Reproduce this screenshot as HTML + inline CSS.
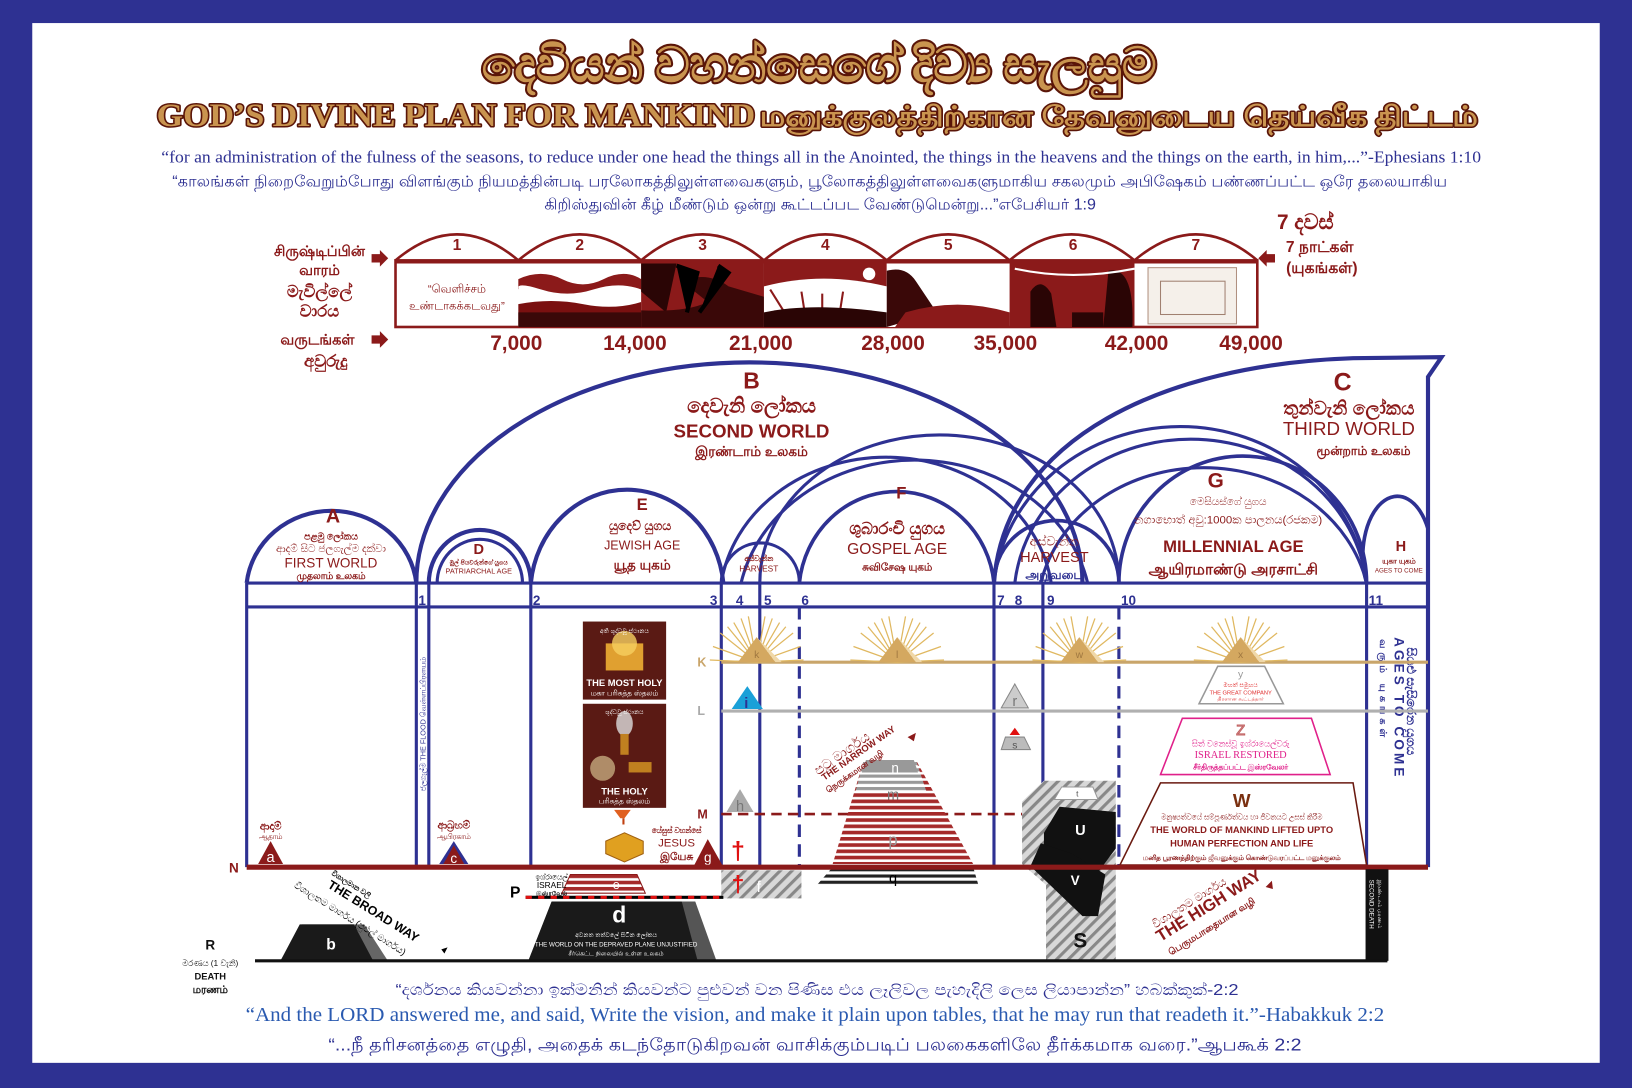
<!DOCTYPE html>
<html><head><meta charset="utf-8"><style>
html,body{margin:0;padding:0;background:#2e3192;}
svg{display:block}
text{font-family:"Liberation Sans","Noto Sans CJK SC",sans-serif}
.serif{font-family:"Liberation Serif","Noto Serif CJK SC",serif}
.ttl{paint-order:stroke fill;stroke-linejoin:round}
</style></head><body>
<svg width="1632" height="1088" viewBox="0 0 1568 1045" xmlns="http://www.w3.org/2000/svg">
<defs>
<pattern id="hat" width="8" height="8" patternUnits="userSpaceOnUse" patternTransform="rotate(45)">
<rect width="8" height="8" fill="#d8d8d8"/><rect width="3" height="8" fill="#888"/></pattern>
<pattern id="rstr" width="6" height="6" patternUnits="userSpaceOnUse"><rect width="6" height="6" fill="#fff"/><rect width="6" height="3.5" fill="#a52a2a"/></pattern>
<pattern id="gstr" width="6" height="6" patternUnits="userSpaceOnUse"><rect width="6" height="6" fill="#fff"/><rect width="6" height="3" fill="#999"/></pattern>
<pattern id="kstr" width="6" height="6" patternUnits="userSpaceOnUse"><rect width="6" height="6" fill="#fff"/><rect width="6" height="3" fill="#222"/></pattern>
<g id="sun"><g stroke="#e0b860" stroke-width="1.2">
<line x1="0" y1="0" x2="-45" y2="-2"/><line x1="0" y1="0" x2="-42" y2="-15"/><line x1="0" y1="0" x2="-35" y2="-28"/><line x1="0" y1="0" x2="-22" y2="-38"/><line x1="0" y1="0" x2="-8" y2="-44"/><line x1="0" y1="0" x2="8" y2="-44"/><line x1="0" y1="0" x2="22" y2="-38"/><line x1="0" y1="0" x2="35" y2="-28"/><line x1="0" y1="0" x2="42" y2="-15"/><line x1="0" y1="0" x2="45" y2="-2"/><line x1="0" y1="0" x2="-15" y2="-42"/><line x1="0" y1="0" x2="15" y2="-42"/><line x1="0" y1="0" x2="-28" y2="-34"/><line x1="0" y1="0" x2="28" y2="-34"/></g>
<polygon points="-18,0 0,-24 18,0" fill="#d4a860"/><polygon points="0,-24 18,0 24,0" fill="#f0d8a8"/></g>
</defs>
<rect x="0" y="0" width="1568" height="1045" fill="#2e3192"/>
<rect x="31" y="22" width="1506" height="999" fill="#fff"/>

<!-- Titles -->
<text x="787" y="78" text-anchor="middle" font-size="46" font-weight="bold" fill="#c9944f" stroke="#5a1508" stroke-width="4" class="ttl serif" style="font-family:'Liberation Serif',serif">දෙවියන් වහන්සෙගේ දිව්‍ය සැලසුම</text>
<text x="438" y="121" text-anchor="middle" font-size="31" font-weight="bold" fill="#c9944f" stroke="#5a1508" stroke-width="3" class="ttl" style="font-family:'Liberation Serif',serif" textLength="575" lengthAdjust="spacingAndGlyphs">GOD’S DIVINE PLAN FOR MANKIND</text>
<text x="1075" y="121" text-anchor="middle" font-size="27" font-weight="bold" fill="#c9944f" stroke="#5a1508" stroke-width="3" class="ttl" textLength="690" lengthAdjust="spacingAndGlyphs">மனுக்குலத்திற்கான தேவனுடைய தெய்வீக திட்டம்</text>
<text x="789" y="156" text-anchor="middle" font-size="16" fill="#2e3192" style="font-family:'Liberation Serif',serif" textLength="1268" lengthAdjust="spacingAndGlyphs">“for an administration of the fulness of the seasons, to reduce under one head the things all in the Anointed, the things in the heavens and the things on the earth, in him,...”-Ephesians 1:10</text>
<text x="778" y="179" text-anchor="middle" font-size="15" fill="#2e3192" textLength="1225" lengthAdjust="spacingAndGlyphs">“காலங்கள் நிறைவேறும்போது விளங்கும் நியமத்தின்படி பரலோகத்திலுள்ளவைகளும், பூலோகத்திலுள்ளவைகளுமாகிய சகலமும் அபிஷேகம் பண்ணப்பட்ட ஒரே தலையாகிய</text>
<text x="788" y="201" text-anchor="middle" font-size="15" fill="#2e3192" textLength="530" lengthAdjust="spacingAndGlyphs">கிறிஸ்துவின் கீழ் மீண்டும் ஒன்று கூட்டப்பட வேண்டுமென்று...”எபேசியர் 1:9</text>

<!-- Day boxes -->
<g stroke="#8b1a1a" stroke-width="2.5" fill="#fff">
<path d="M380,250 Q439,200 498,250 Q557,200 616,250 Q675,200 734,250 Q793,200 852,250 Q911,200 970,250 Q1029,200 1090,250 Q1149,200 1208,250"/>
<rect x="380" y="250" width="828" height="64"/>
</g>
<rect x="380" y="250" width="828" height="3" fill="#8b1a1a"/>
<g font-size="15" text-anchor="middle" fill="#8b1a1a" font-weight="bold">
<text x="439" y="240">1</text><text x="557" y="240">2</text><text x="675" y="240">3</text><text x="793" y="240">4</text><text x="911" y="240">5</text><text x="1031" y="240">6</text><text x="1149" y="240">7</text></g>
<text x="439" y="281" text-anchor="middle" font-size="11" fill="#8b1a1a">“வெளிச்சம்</text>
<text x="439" y="297" text-anchor="middle" font-size="11" fill="#8b1a1a">உண்டாகக்கடவது”</text>
<rect x="498" y="253" width="118" height="61" fill="#fff"/>
<path d="M498,268 Q520,258 540,268 T580,268 T616,268 V278 Q595,270 570,278 T520,278 T498,278Z" fill="#8b1a1a"/>
<path d="M498,292 Q530,286 560,292 T616,290 V314 H498Z" fill="#7a1010"/>
<path d="M498,300 H616 V314 H498Z" fill="#3a0808"/>
<rect x="616" y="253" width="118" height="61" fill="#8b1a1a"/>
<path d="M616,253 H650 L640,300 L616,280Z" fill="#2a0505"/><path d="M655,270 Q680,260 700,275 L734,285 V314 H616 V298 Q660,300 680,290Z" fill="#3a0808"/>
<path d="M650,255 L670,262 L660,300 M690,255 L700,262 L672,300" stroke="#000" stroke-width="4"/>
<rect x="734" y="253" width="118" height="61" fill="#8b1a1a"/>
<path d="M734,275 Q790,260 852,275 V314 H734Z" fill="#fff"/>
<path d="M740,278 L760,310 M770,280 L775,312 M790,282 L790,312 M810,280 L805,312" stroke="#8b1a1a" stroke-width="2"/>
<path d="M734,300 Q780,290 852,300 V314 H734Z" fill="#2a0505"/><circle cx="835" cy="263" r="6" fill="#fff"/>
<rect x="852" y="253" width="118" height="61" fill="#fff"/>
<path d="M852,260 Q870,255 880,270 L900,300 L852,314Z" fill="#3a0808"/><path d="M870,300 Q920,285 970,300 V314 H860Z" fill="#8b1a1a"/>
<rect x="970" y="253" width="120" height="61" fill="#8b1a1a"/>
<path d="M990,280 Q1000,265 1010,282 L1015,314 H990Z M1030,300 H1060 V314 H1030Z M1065,260 Q1090,255 1088,314 H1060Z" fill="#2a0505"/>
<path d="M975,258 Q1030,270 1090,258" stroke="#fff" stroke-width="2" fill="none"/>
<rect x="1103" y="257" width="85" height="54" fill="#f5f0ea" stroke="#b09080"/>
<rect x="1115" y="270" width="62" height="32" fill="none" stroke="#a08070"/>
<g font-size="20" font-weight="bold" fill="#8b1a1a" text-anchor="middle">
<text x="496" y="336">7,000</text><text x="610" y="336">14,000</text><text x="731" y="336">21,000</text><text x="858" y="336">28,000</text><text x="966" y="336">35,000</text><text x="1092" y="336">42,000</text><text x="1202" y="336">49,000</text></g>
<g font-size="14" font-weight="bold" fill="#8b1a1a" text-anchor="middle">
<text x="307" y="246">சிருஷ்டிப்பின்</text><text x="307" y="264">வாரம்</text>
<text x="307" y="285" font-size="16">මැවිල්ලේ</text><text x="307" y="304" font-size="16">වාරය</text>
<text x="305" y="331">வருடங்கள்</text><text x="313" y="352" font-size="16">අවුරුදු</text>
<text x="1254" y="220" font-size="20">7 දවස්</text><text x="1268" y="242" font-size="15">7 நாட்கள்</text><text x="1270" y="262" font-size="15">(யுகங்கள்)</text></g>
<g fill="#8b1a1a"><path d="M357,244 h8 v-4 l8,8 l-8,8 v-4 h-8z"/><path d="M357,322 h8 v-4 l8,8 l-8,8 v-4 h-8z"/><path d="M1225,244 h-8 v-4 l-8,8 l8,8 v-4 h8z"/></g>

<!-- Arches -->
<g fill="none" stroke="#2e3192" stroke-width="4">
<path d="M400,560 A320,212 0 0 1 1040,560"/>
<path d="M955,560 C965,420 1120,350 1300,344 L1385,343 L1372,362 L1372,833"/>
<path d="M237,560 A82,78 0 0 1 400,560"/>
<path d="M412,560 A49,51 0 0 1 510,560"/><path d="M420,560 A41,42 0 0 1 502,560" stroke-width="3"/>
<path d="M510,560 A93,100 0 0 1 695,560"/>
<path d="M693,560 A37,38 0 0 1 768,560" stroke-width="3"/>
<path d="M693,560 A160,140 0 0 1 1010,560" stroke-width="3"/>
<path d="M712,560 A170,148 0 0 1 1045,560" stroke-width="3"/>
<path d="M730,560 A172,142 0 0 1 1075,560" stroke-width="3"/>
<path d="M768,560 A94,98 0 0 1 955,560" stroke-width="3.5"/>
<path d="M955,560 A60,60 0 0 1 1075,560" stroke-width="3.5"/>
<path d="M955,560 A180,168 0 0 1 1313,560" stroke-width="3"/>
<path d="M975,560 A170,155 0 0 1 1313,560" stroke-width="3"/>
<path d="M1000,560 A160,140 0 0 1 1313,560" stroke-width="3"/>
<path d="M1075,560 A119,122 0 0 1 1313,560" stroke-width="3.5"/>
<path d="M1313,560 A30,52 0 0 1 1372,508" stroke-width="3.5"/>
<line x1="237" y1="560" x2="1372" y2="560" stroke-width="3"/>
<line x1="237" y1="583" x2="1372" y2="583" stroke-width="3"/>
<line x1="237" y1="560" x2="237" y2="833" stroke-width="3"/>
<line x1="400" y1="560" x2="400" y2="833" stroke-width="3"/>
<line x1="412" y1="560" x2="412" y2="833" stroke-width="3"/>
<line x1="510" y1="560" x2="510" y2="833" stroke-width="3"/>
<line x1="693" y1="560" x2="693" y2="833" stroke-width="3"/>
<line x1="730" y1="560" x2="730" y2="833" stroke-width="3"/>
<line x1="768" y1="583" x2="768" y2="833" stroke-width="3" stroke-dasharray="12,7"/>
<line x1="955" y1="560" x2="955" y2="833" stroke-width="3"/>
<line x1="1002" y1="560" x2="1002" y2="833" stroke-width="3"/>
<line x1="1075" y1="583" x2="1075" y2="833" stroke-width="3" stroke-dasharray="12,7"/>
<line x1="1313" y1="560" x2="1313" y2="833" stroke-width="3"/>
</g>
<g font-size="13" font-weight="bold" fill="#2e3192">
<text x="402" y="581">1</text><text x="512" y="581">2</text><text x="682" y="581">3</text><text x="707" y="581">4</text><text x="734" y="581">5</text><text x="770" y="581">6</text><text x="958" y="581">7</text><text x="975" y="581">8</text><text x="1006" y="581">9</text><text x="1077" y="581">10</text><text x="1315" y="581">11</text></g>

<!-- World/age labels -->
<g text-anchor="middle" font-weight="bold" fill="#8b1a1a">
<text x="722" y="373" font-size="22">B</text>
<text x="722" y="396" font-size="19">දෙවැනි ලෝකය</text>
<text x="722" y="420" font-size="18">SECOND WORLD</text>
<text x="722" y="438" font-size="13">இரண்டாம் உலகம்</text>
<text x="1290" y="375" font-size="24">C</text>
<text x="1296" y="398" font-size="18">තුන්වැනි ලෝකය</text>
<text x="1296" y="418" font-size="18" font-weight="normal">THIRD WORLD</text>
<text x="1310" y="437" font-size="12">மூன்றாம் உலகம்</text>
<text x="320" y="502" font-size="19">A</text>
<text x="318" y="518" font-size="9">පළමු ලෝකය</text>
<text x="318" y="530" font-size="10" font-weight="normal">ආදම් සිට ජලගැල්ම දක්වා</text>
<text x="318" y="545" font-size="13" font-weight="normal">FIRST WORLD</text>
<text x="318" y="556" font-size="9">முதலாம் உலகம்</text>
<text x="460" y="532" font-size="14">D</text>
<text x="460" y="542" font-size="6">මුල් පියවරුන්ගේ යුගය</text>
<text x="460" y="551" font-size="7" font-weight="normal">PATRIARCHAL AGE</text>
<text x="617" y="490" font-size="16">E</text>
<text x="615" y="509" font-size="12">යුදෙව් යුගය</text>
<text x="617" y="528" font-size="12" font-weight="normal">JEWISH AGE</text>
<text x="617" y="547" font-size="13">யூத யுகம்</text>
<text x="866" y="479" font-size="16">F</text>
<text x="862" y="513" font-size="16">ශුබාරංචි යුගය</text>
<text x="862" y="532" font-size="15" font-weight="normal">GOSPEL AGE</text>
<text x="862" y="548" font-size="10">சுவிசேஷ யுகம்</text>
<text x="729" y="539" font-size="7">අස්වැන්න</text>
<text x="729" y="549" font-size="8" font-weight="normal">HARVEST</text>
<text x="1013" y="524" font-size="12" font-weight="normal">අස්වැන්න</text>
<text x="1013" y="540" font-size="14" font-weight="normal">HARVEST</text>
<text x="1013" y="556" font-size="12" fill="#2e3192">அறுவடை</text>
<text x="1168" y="468" font-size="20">G</text>
<text x="1180" y="485" font-size="10" font-weight="normal">මෙසියස්ගේ යුගය</text>
<text x="1180" y="503" font-size="11" font-weight="normal">නගාභොත් අවු:1000ක පාලනය(රජකම)</text>
<text x="1185" y="530" font-size="16">MILLENNIAL AGE</text>
<text x="1185" y="552" font-size="15">ஆயிரமாண்டு அரசாட்சி</text>
<text x="1346" y="529" font-size="14">H</text>
<text x="1344" y="541" font-size="7">யுகா யுகம்</text>
<text x="1344" y="550" font-size="6" font-weight="normal">AGES TO COME</text>
</g>

<text transform="translate(409,760) rotate(-90)" font-size="7" fill="#2e3192">ජලගැල්ම   THE FLOOD   வெள்ளப்பிரளயம்</text>
<g fill="#2e3192" font-weight="bold">
<text transform="translate(1352,622) rotate(90)" font-size="12">සියළු සැසිරෙන යුගය</text>
<text transform="translate(1340,612) rotate(90)" font-size="13" letter-spacing="3">AGES TO COME</text>
<text transform="translate(1326,614) rotate(90)" font-size="9" letter-spacing="4">வரும் யுகங்கள்</text>
</g>

<!-- Planes -->
<line x1="693" y1="636" x2="1372" y2="636" stroke="#c9a56a" stroke-width="3"/>
<line x1="693" y1="683" x2="1372" y2="683" stroke="#b0b0b0" stroke-width="3"/>
<line x1="693" y1="782" x2="1075" y2="782" stroke="#8b1a1a" stroke-width="2.5" stroke-dasharray="10,6"/>
<text x="670" y="640" font-size="12" font-weight="bold" fill="#c9a56a">K</text>
<text x="670" y="687" font-size="12" font-weight="bold" fill="#aaa">L</text>
<text x="670" y="786" font-size="12" font-weight="bold" fill="#8b1a1a">M</text>
<use href="#sun" x="727" y="636"/><use href="#sun" x="862" y="636"/><use href="#sun" x="1037" y="636"/><use href="#sun" x="1192" y="636"/>
<g font-size="10" fill="#a07840" text-anchor="middle"><text x="727" y="632">k</text><text x="862" y="632">l</text><text x="1037" y="632">w</text><text x="1192" y="632">x</text></g>

<!-- Tabernacle -->
<rect x="560" y="597" width="80" height="75" fill="#5a1a14"/>
<rect x="582" y="618" width="36" height="26" fill="#e0a030"/>
<circle cx="600" cy="618" r="12" fill="#f6d060" opacity="0.8"/>
<text x="600" y="608" font-size="6" fill="#fff" text-anchor="middle">අති ශුද්ධවූ ස්ථානය</text>
<text x="600" y="659" font-size="9" fill="#fff" text-anchor="middle" font-weight="bold">THE MOST HOLY</text>
<text x="600" y="668" font-size="7" fill="#fff" text-anchor="middle">மகா பரிசுத்த ஸ்தலம்</text>
<rect x="560" y="676" width="80" height="100" fill="#5a1a14"/>
<ellipse cx="600" cy="695" rx="8" ry="12" fill="#ddd" opacity="0.8"/>
<rect x="596" y="705" width="8" height="20" fill="#c08020"/>
<circle cx="579" cy="738" r="12" fill="#e8d8a0" opacity="0.6"/>
<rect x="604" y="732" width="22" height="10" fill="#c08020"/>
<text x="600" y="686" font-size="6" fill="#fff" text-anchor="middle">ශුද්ධවූ ස්ථානය</text>
<text x="600" y="763" font-size="9" fill="#fff" text-anchor="middle" font-weight="bold">THE HOLY</text>
<text x="600" y="772" font-size="7" fill="#fff" text-anchor="middle">பரிசுத்த ஸ்தலம்</text>
<path d="M590,778 h16 l-6,8 h-4z" fill="#e06020"/><rect x="598" y="786" width="2" height="6" fill="#c04010"/>
<path d="M582,808 l18,-8 l18,8 v12 l-18,8 l-18,-8z" fill="#e0a020" stroke="#a06010"/>

<!-- small pyramids -->
<polygon points="248,830 260,808 272,830" fill="#8b1a1a"/><text x="260" y="828" font-size="14" fill="#fff" text-anchor="middle">a</text>
<text x="260" y="797" font-size="10" font-weight="bold" fill="#8b1a1a" text-anchor="middle">ආදාම්</text><text x="260" y="806" font-size="7" fill="#8b1a1a" text-anchor="middle">ஆதாம்</text>
<polygon points="422,830 436,808 450,830" fill="#2e3192"/><polygon points="426,830 436,812 446,830" fill="#8b1a1a"/><text x="436" y="829" font-size="13" fill="#fff" text-anchor="middle">c</text>
<text x="436" y="796" font-size="10" font-weight="bold" fill="#8b1a1a" text-anchor="middle">ආබ්‍රහම්</text><text x="436" y="806" font-size="7" fill="#8b1a1a" text-anchor="middle">ஆபிரகாம்</text>
<polygon points="667,831 680,806 694,831" fill="#8b1a1a"/><text x="680" y="828" font-size="13" fill="#fff" text-anchor="middle">g</text>
<text x="650" y="800" font-size="7" font-weight="bold" fill="#8b1a1a" text-anchor="middle">යේසුස් වහන්සේ</text>
<text x="650" y="813" font-size="11" fill="#8b1a1a" text-anchor="middle">JESUS</text>
<text x="650" y="826" font-size="10" font-weight="bold" fill="#8b1a1a" text-anchor="middle">இயேசு</text>
<text x="709" y="825" font-size="24" font-weight="bold" fill="#e01010" text-anchor="middle">†</text>
<polygon points="703,681 718,659 733,681" fill="#1aa0d8"/><text x="717" y="680" font-size="14" fill="#2e3192" text-anchor="middle" font-weight="bold">i</text>
<polygon points="698,780 711,758 724,780" fill="#aaa"/><text x="711" y="779" font-size="14" fill="#777" text-anchor="middle">h</text>
<polygon points="962,680 975,657 988,680" fill="#ccc" stroke="#888"/><text x="975" y="678" font-size="14" fill="#777" text-anchor="middle">r</text>
<polygon points="962,720 966,708 984,708 990,720" fill="#bbb" stroke="#888"/><text x="975" y="719" font-size="10" fill="#555" text-anchor="middle">s</text>
<polygon points="970,706 975,699 980,706" fill="#e01010"/>

<!-- great company y -->
<polygon points="1152,676 1170,640 1215,640 1233,676" fill="#fff" stroke="#999" stroke-width="1.5"/>
<text x="1192" y="651" font-size="10" fill="#999" text-anchor="middle">y</text>
<text x="1192" y="660" font-size="6" fill="#e03030" text-anchor="middle">මහත් සමූහය</text>
<text x="1192" y="667" font-size="5.5" fill="#e03030" text-anchor="middle">THE GREAT COMPANY</text>
<text x="1192" y="673" font-size="5" fill="#e03030" text-anchor="middle">திரளான கூட்டத்தார்</text>
<polygon points="1115,744 1136,690 1260,690 1278,744" fill="#fff" stroke="#e0208a" stroke-width="1.5"/>
<text x="1192" y="706" font-size="14" fill="#fff" stroke="#c06060" text-anchor="middle">Z</text>
<text x="1192" y="717" font-size="8" fill="#e0208a" text-anchor="middle">සිත් වනෙස්වූ ඉශ්රායෙල්වරු</text>
<text x="1192" y="728" font-size="10" fill="#e0208a" text-anchor="middle" style="font-family:'Liberation Serif',serif">ISRAEL RESTORED</text>
<text x="1192" y="739" font-size="7" fill="#e0208a" text-anchor="middle" font-weight="bold">சீர்திருத்தப்பட்ட இஸ்ரவேலர்</text>
<polygon points="1076,831 1115,752 1300,752 1313,831" fill="#fff" stroke="#6a1a10" stroke-width="1.5"/>
<text x="1193" y="775" font-size="18" font-weight="bold" fill="#7a3010" text-anchor="middle">W</text>
<text x="1193" y="787" font-size="7" fill="#8b1a1a" text-anchor="middle">මනුෂ්‍යත්වයේ සම්පූර්ණත්වය හා ජීවනයට උසස් කිරීම</text>
<text x="1193" y="800" font-size="9" fill="#8b1a1a" text-anchor="middle" font-weight="bold">THE WORLD OF MANKIND LIFTED UPTO</text>
<text x="1193" y="813" font-size="9" fill="#8b1a1a" text-anchor="middle" font-weight="bold">HUMAN PERFECTION AND LIFE</text>
<text x="1193" y="826" font-size="6.5" fill="#8b1a1a" text-anchor="middle" font-weight="bold">மனித பூரணத்திற்கும் ஜீவனுக்கும் கொண்டுவரப்பட்ட மனுக்குலம்</text>

<!-- Gospel pyramid -->
<polygon points="800,830 830,730 880,730 935,830" fill="url(#rstr)"/>
<polygon points="822,760 830,730 880,730 890,760" fill="url(#gstr)"/>
<polygon points="828,742 832,730 878,730 882,742" fill="#999"/>
<text x="860" y="742" font-size="13" fill="#fff" text-anchor="middle">n</text>
<text x="858" y="768" font-size="14" fill="#777" text-anchor="middle">m</text>
<text x="858" y="812" font-size="16" fill="#999" text-anchor="middle">p</text>
<polygon points="785,850 800,833 935,833 940,850" fill="url(#kstr)"/>
<text x="858" y="848" font-size="14" fill="#000" text-anchor="middle">q</text>
<text transform="translate(786,745) rotate(-35)" font-size="13" fill="#8b1a1a">පටු මාර්ගය</text>
<text transform="translate(792,750) rotate(-35)" font-size="9" fill="#8b1a1a" font-weight="bold">THE NARROW WAY</text>
<text transform="translate(796,762) rotate(-35)" font-size="8" fill="#8b1a1a" font-weight="bold">நெருக்கமான வழி</text>
<path d="M872,708 l8,-4 l-2,8z" fill="#8b1a1a"/>

<!-- Harvest S column -->
<polygon points="982,770 1003,750 1072,750 1072,922 1005,922 1005,850 982,830" fill="url(#hat)"/>
<polygon points="1013,768 1020,756 1050,756 1055,768" fill="#fff" stroke="#999"/>
<text x="1035" y="765" font-size="8" fill="#555" text-anchor="middle">t</text>
<polygon points="1003,800 1018,775 1072,780 1072,815 1055,838 1003,820" fill="#111"/>
<polygon points="990,832 1000,810 1030,820 1062,840 1055,880 1040,880" fill="#111"/>
<text x="1038" y="802" font-size="14" fill="#fff" text-anchor="middle" font-weight="bold">U</text>
<text x="1033" y="850" font-size="13" fill="#fff" text-anchor="middle" font-weight="bold">V</text>
<text x="1038" y="910" font-size="20" fill="#111" text-anchor="middle" font-weight="bold">S</text>

<line x1="237" y1="833" x2="1372" y2="833" stroke="#8b1a1a" stroke-width="5"/>
<text x="220" y="838" font-size="13" font-weight="bold" fill="#8b1a1a">N</text>

<rect x="693" y="836" width="77" height="27" fill="url(#hat)"/>
<text x="729" y="857" font-size="15" fill="#fff" text-anchor="middle">f</text>
<text x="709" y="857" font-size="22" font-weight="bold" fill="#e01010" text-anchor="middle">†</text>
<polygon points="540,858 548,840 612,840 620,858" fill="url(#rstr)" stroke="#8b1a1a"/>
<text x="592" y="854" font-size="12" fill="#fff" text-anchor="middle">e</text>
<text x="530" y="845" font-size="7" fill="#000" text-anchor="middle">ඉශ්රායෙල්</text>
<text x="530" y="853" font-size="8" fill="#000" text-anchor="middle">ISRAEL</text>
<text x="530" y="860" font-size="6" fill="#000" text-anchor="middle" font-weight="bold">இஸ்ரவேல்</text>
<text x="490" y="862" font-size="15" font-weight="bold" fill="#000">P</text>
<line x1="505" y1="862" x2="695" y2="862" stroke="#000" stroke-width="3"/>
<line x1="505" y1="862" x2="695" y2="862" stroke="#e01010" stroke-width="3" stroke-dasharray="6,6"/>
<polygon points="508,922 530,866 668,866 688,922" fill="#555"/>
<polygon points="508,922 530,866 655,866 670,922" fill="#1a1a1a"/>
<text x="595" y="886" font-size="22" font-weight="bold" fill="#fff" text-anchor="middle">d</text>
<text x="592" y="900" font-size="6" fill="#fff" text-anchor="middle">අවනත තත්වලේ සිටින ලෝකය</text>
<text x="592" y="909" font-size="6" fill="#fff" text-anchor="middle">THE WORLD ON THE DEPRAVED PLANE UNJUSTIFIED</text>
<text x="592" y="918" font-size="6" fill="#fff" text-anchor="middle">சீர்கெட்ட நிலையில் உள்ள உலகம்</text>
<polygon points="270,922 290,888 350,888 372,922" fill="#666"/>
<polygon points="270,922 288,888 340,888 358,922" fill="#1a1a1a"/>
<text x="318" y="912" font-size="15" font-weight="bold" fill="#fff" text-anchor="middle">b</text>
<text transform="translate(318,840) rotate(32)" font-size="7" fill="#000" font-weight="bold">විශාලමාන වලි</text>
<text transform="translate(314,852) rotate(32)" font-size="12" fill="#000" font-weight="bold">THE BROAD WAY</text>
<text transform="translate(282,852) rotate(32)" font-size="9" fill="#000">විශාලතම මාර්ගය (පුළුල් මාර්ගය)</text>
<path d="M424,912 l6,-2 l-3,6z" fill="#000"/>
<text transform="translate(1110,892) rotate(-32)" font-size="11" fill="#8b1a1a">විශාලතම මාර්ගය</text>
<text transform="translate(1115,905) rotate(-32)" font-size="16" fill="#8b1a1a" font-weight="bold">THE HIGH WAY</text>
<text transform="translate(1125,918) rotate(-32)" font-size="9" fill="#8b1a1a" font-weight="bold">பெருமபாதையான வழி</text>
<path d="M1216,852 l6,-6 l1,8z" fill="#8b1a1a"/>
<rect x="1312" y="835" width="22" height="88" fill="#111"/>
<text transform="translate(1316,845) rotate(90)" font-size="6" fill="#fff">SECOND DEATH</text>
<text transform="translate(1324,845) rotate(90)" font-size="5.5" fill="#fff">இரண்டாம் மரணம்</text>

<line x1="245" y1="923" x2="1333" y2="923" stroke="#111" stroke-width="3"/>
<text x="202" y="912" font-size="13" font-weight="bold" fill="#111" text-anchor="middle">R</text>
<text x="202" y="928" font-size="8" fill="#111" text-anchor="middle">මරණය (1 වැනි)</text>
<text x="202" y="941" font-size="9" font-weight="bold" fill="#111" text-anchor="middle">DEATH</text>
<text x="202" y="954" font-size="10" font-weight="bold" fill="#111" text-anchor="middle">மரணம்</text>

<text x="785" y="956" text-anchor="middle" font-size="15" fill="#2e3192" textLength="810" lengthAdjust="spacingAndGlyphs">“දර්ශනය කියවන්නා ඉක්මනින් කියවන්ට පුළුවන් වන පිණිස එය ලෑලිවල පැහැදිලි ලෙස ලියාපාන්න” හබක්කුක්-2:2</text>
<text x="783" y="981" text-anchor="middle" font-size="19" fill="#2a5ab0" style="font-family:'Liberation Serif',serif" textLength="1094" lengthAdjust="spacingAndGlyphs">“And the LORD answered me, and said, Write the vision, and make  it plain upon tables, that he may run that readeth it.”-Habakkuk 2:2</text>
<text x="783" y="1009" text-anchor="middle" font-size="17" fill="#2e3192" textLength="935" lengthAdjust="spacingAndGlyphs">“...நீ தரிசனத்தை எழுதி, அதைக் கடந்தோடுகிறவன் வாசிக்கும்படிப் பலகைகளிலே தீர்க்கமாக வரை.”ஆபகூக் 2:2</text>
</svg>
</body></html>
